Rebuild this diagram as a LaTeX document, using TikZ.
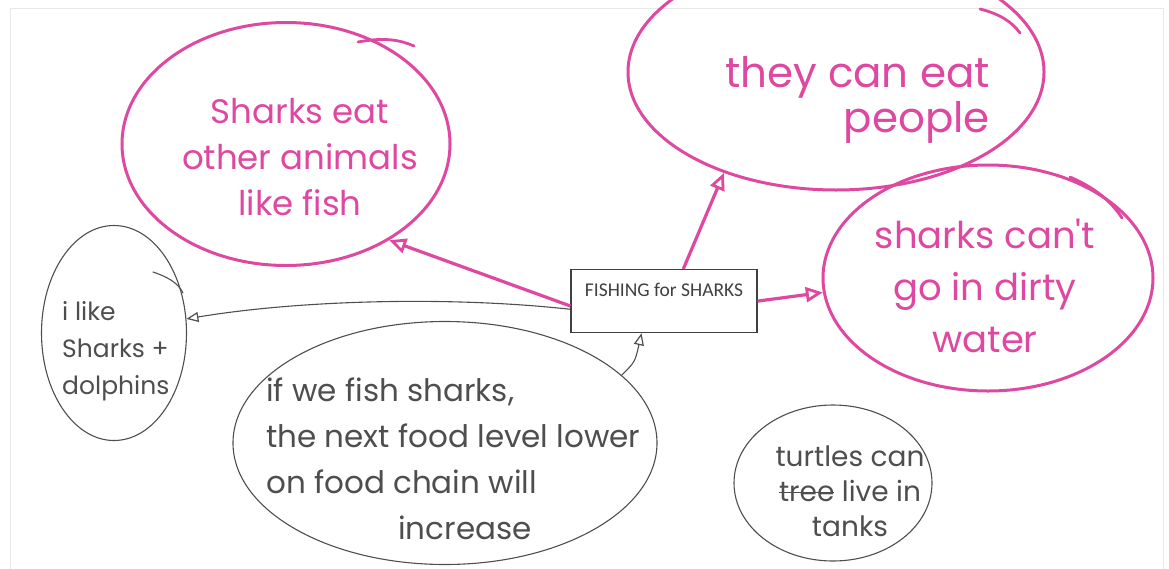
\documentclass[tikz,border=0pt]{standalone}
\usepackage{fontspec}
\usetikzlibrary{arrows.meta,shapes.geometric}
\newfontfamily\handfont{Poppins}
\newfontfamily\boxfont{Carlito}
\definecolor{marker}{RGB}{222,72,160}
\definecolor{pen}{RGB}{78,78,78}
\definecolor{frameline}{RGB}{232,232,232}
% a word with a line drawn through it
\newcommand\scratchword[1]{\setbox0\hbox{#1}\rlap{\rule[0.28em]{\wd0}{1.6pt}}\box0\relax}

\begin{document}
\begin{tikzpicture}[x=1pt,y=-1pt,
  pinkblob/.style={ellipse, draw=marker, line width=3pt, inner sep=0pt},
  grayblob/.style={ellipse, draw=pen, line width=1.1pt, inner sep=0pt},
  pinktext/.style={text=marker, inner sep=0pt},
  graytext/.style={text=pen, inner sep=0pt},
  pinkstroke/.style={draw=marker, line width=2.8pt, line cap=round},
  graystroke/.style={draw=pen, line width=1.1pt, line cap=round},
  pinkarrow/.style={draw=marker, line width=3.2pt,
    -{Triangle[open, length=17pt, width=15pt, line width=2.8pt]}},
  grayarrow/.style={draw=pen, line width=1.1pt,
    -{Triangle[open, length=12pt, width=10pt, line width=1.2pt]}},
  titlebox/.style={draw=black!75, line width=1.2pt, minimum width=186pt,
    minimum height=63pt, text=black!75, font=\boxfont\fontsize{19.5}{22}\selectfont,
    anchor=north, inner sep=0pt, text depth=0pt}
]
\useasboundingbox (0,0) rectangle (1169,568);
\draw[frameline, line width=1pt] (10,8) rectangle (1163,580);

% central box
\node[titlebox] (box) at (664,269) {\raisebox{22pt}{FISHING for SHARKS}};

% pink bubbles
\node[pinkblob, minimum width=328pt, minimum height=243pt] (eat) at (286,144) {};
\node[pinktext, align=center, font=\handfont\fontsize{34}{46}\selectfont] (eattext) at (300,157)
  {Sharks eat\\other animals\\like fish};
\draw[pinkstroke] (358,42) .. controls (385,37) and (400,40) .. (414,46);

\node[pinkblob, minimum width=416pt, minimum height=236pt] (people) at (836,72) {};
\node[pinktext, align=right, anchor=east, font=\handfont\fontsize{42}{45}\selectfont] (peopletext) at (990,100)
  {they can eat\\people};
\draw[pinkstroke] (980,9) .. controls (1000,14) and (1012,22) .. (1020,33);

\node[pinkblob, minimum width=330pt, minimum height=226pt] (dirty) at (988,278) {};
\node[pinktext, align=center, font=\handfont\fontsize{37}{52}\selectfont] (dirtytext) at (985,286)
  {sharks can't\\go in dirty\\water};
\draw[pinkstroke] (1070,177) .. controls (1095,188) and (1110,200) .. (1122,218);

% grey bubbles
\node[grayblob, minimum width=145pt, minimum height=215pt] (like) at (114,333) {};
\node[graytext, align=left, anchor=west, font=\handfont\fontsize{25}{37}\selectfont] (liketext) at (62,351)
  {i like\\Sharks +\\dolphins};
\draw[graystroke] (153,272) .. controls (165,276) and (178,282) .. (183,293);

\node[grayblob, minimum width=424pt, minimum height=243pt] (chain) at (445,443) {};
\node[graytext, align=left, anchor=west, font=\handfont\fontsize{31}{46}\selectfont] (chaintext) at (266,459)
  {if we fish sharks,\\the next food level lower\\on food chain will\\\hspace*{132pt}increase};

\node[grayblob, minimum width=198pt, minimum height=156pt] (tanks) at (833,483) {};
\node[graytext, align=center, font=\handfont\fontsize{28}{35}\selectfont] (tankstext) at (850,491)
  {turtles can\\\scratchword{tree} live in\\tanks};

% connectors
\draw[pinkarrow] (box.183) -- (eat.-43);
\draw[pinkarrow] (box.59) -- (people.-138);
\draw[pinkarrow] (box.east) -- (dirty.185);
\draw[grayarrow] (box.185) .. controls (450,296) and (300,300) .. (like.11);
\draw[grayarrow] (chain.21) .. controls (635,362) .. (box.-125);
\end{tikzpicture}
\end{document}
